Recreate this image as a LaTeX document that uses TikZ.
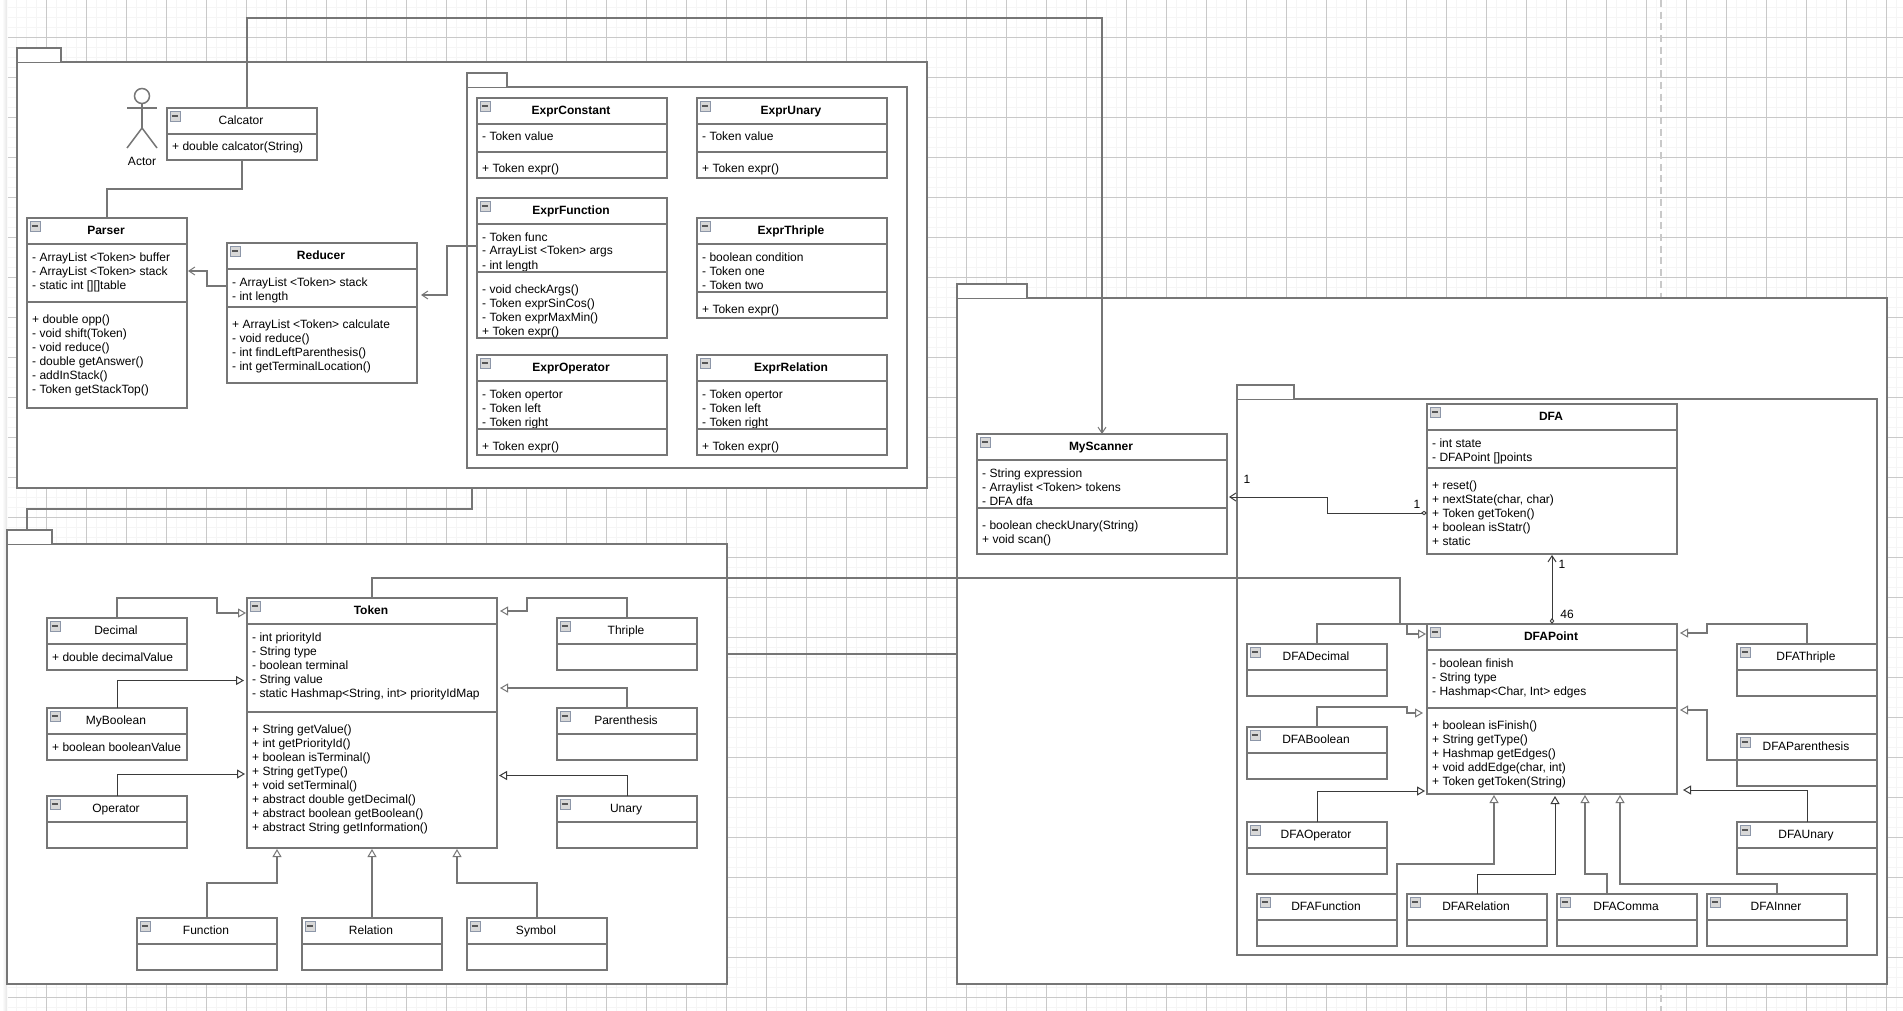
\documentclass[tikz,border=0pt]{standalone}
\usepackage{fontspec}
\setmainfont{Liberation Sans}
\usetikzlibrary{arrows.meta}

\definecolor{umlgray}{HTML}{767676}
\definecolor{linkdark}{HTML}{3A3A3A}
\definecolor{gridmajor}{HTML}{C9C9C9}
\definecolor{gridminor}{HTML}{F5F5F5}
\definecolor{iconedge}{HTML}{8C96A8}
\definecolor{iconfill}{HTML}{D8D8D8}

\tikzset{
    umltext/.style={font=\fontsize{12}{14}\selectfont, text=black},
    classframe/.style={draw=umlgray, line width=1.5pt, fill=white, anchor=north west, inner sep=0pt, outer sep=0pt},
    classtitle/.style={umltext, inner sep=0pt},
    classmember/.style={umltext, anchor=north west, align=left, inner sep=0pt},
    classline/.style={draw=umlgray, line width=1.5pt},
    iconframe/.style={draw=iconedge, fill=iconfill, line width=.8pt},
    pkgframe/.style={draw=umlgray, line width=1.5pt, fill=white, anchor=north west, inner sep=0pt, outer sep=0pt},
    link/.style={draw=umlgray, line width=1.4pt},
    thinlink/.style={draw=linkdark, line width=.9pt},
    hollowtip/.style={-{Triangle[length=8pt, width=9pt, fill=white, line width=1pt]}},
    opentip/.style={-{Straight Barb[length=6pt, width=8pt, line width=1pt]}}
}

% name, left, top, width, height, title
\newcommand{\classbox}[7][]{
    \node[classframe, minimum width=#5pt, minimum height=#6pt] (#2) at (#3,#4) {};
    \node[classtitle, font=\fontsize{12}{14}\selectfont#1] (#2-title) at ([xshift=-1pt, yshift=-14pt]#2.north) {\strut #7};
    \draw[iconframe] ([xshift=3pt, yshift=-3pt]#2.north west) rectangle ++(10,10);
    \draw[linkdark!85, line width=1.8pt] ([xshift=4.8pt, yshift=-8.2pt]#2.north west) -- ++(6.4,0);
}
% attribute block under a separator at the given height
\newcommand{\classattrs}[3]{
    \draw[classline] (#1.west |- 0,#2) -- (#1.east |- 0,#2);
    \node[classmember] (#1-attrs) at ([xshift=5pt]#1.west |- 0,#2+7) {\strut #3};
}
% method block, sits a little lower than the attributes
\newcommand{\classops}[3]{
    \draw[classline] (#1.west |- 0,#2) -- (#1.east |- 0,#2);
    \node[classmember] (#1-ops) at ([xshift=5pt]#1.west |- 0,#2+11) {\strut #3};
}
% name, left, top of body, right, bottom, tab right, tab top
\newcommand{\packagebox}[7]{
    \node[pkgframe, minimum width=#4pt-#2pt, minimum height=#5pt-#3pt] (#1) at (#2,#3) {};
    \draw[classline, fill=white] (#2,#3) |- (#6,#7) -- (#6,#3);
}

\begin{document}
\begin{tikzpicture}[x=1pt, y=-1pt]
\useasboundingbox (0,0) rectangle (1903,1011);

% Draw the page grid
\fill[white] (0,0) rectangle (1903,1011);
\foreach \x in {16.7,26.7,...,1903}
    \draw[gridminor, line width=1.2pt] (\x,0) -- (\x,1011);
\foreach \y in {7.3,17.3,...,1011}
    \draw[gridminor, line width=1.2pt] (8,\y) -- (1903,\y);
\foreach \x in {46.7,86.7,...,1903}
    \draw[gridmajor, line width=.8pt] (\x,0) -- (\x,1011);
\foreach \y in {37.3,77.3,...,1011}
    \draw[gridmajor, line width=.8pt] (8,\y) -- (1903,\y);
\shade[left color=white, right color=black!10] (2,0) rectangle (7,1011);

% Draw the page break
\draw[gridmajor, line width=1.6pt, dash pattern=on 7pt off 4.7pt] (1661,0) -- (1661,1011);

% Draw the packages
\packagebox{pkgcalc}{17}{62}{927}{488}{61}{48}
\packagebox{pkgexpr}{467}{87}{907}{468}{507}{73}
\packagebox{pkgtoken}{7}{544}{727}{984}{52}{530}
\packagebox{pkgscan}{957}{298}{1887}{984}{1027}{284}
\packagebox{pkgdfa}{1237}{399}{1877}{955}{1294}{385}
\coordinate (pkgtoken-tab) at (27,530);

% Draw the actor
\draw[classline, fill=white] (142,96) circle (7.5);
\draw[classline] (127,108) -- (157,108);
\draw[classline] (142,103.5) -- (142,128);
\draw[classline] (127,148) -- (142,128) -- (157,148);
\node[umltext, inner sep=0pt] (actor) at (142,161) {Actor};

% Calculator package
\classbox{calcator}{167}{108}{150}{52}{Calcator}
\classattrs{calcator}{134}{+ double calcator(String)}

\classbox[\bfseries]{parser}{27}{218}{160}{190}{Parser}
\classattrs{parser}{244}{- ArrayList <Token> buffer\\- ArrayList <Token> stack\\- static int [][]table}
\classops{parser}{302}{+ double opp()\\- void shift(Token)\\- void reduce()\\- double getAnswer()\\- addInStack()\\- Token getStackTop()}

\classbox[\bfseries]{reducer}{227}{243}{190}{140}{Reducer}
\classattrs{reducer}{269}{- ArrayList <Token> stack\\- int length}
\classops{reducer}{307}{+ ArrayList <Token> calculate\\- void reduce()\\- int findLeftParenthesis()\\- int getTerminalLocation()}

% Expression classes
\classbox[\bfseries]{exprconstant}{477}{98}{190}{80}{ExprConstant}
\classattrs{exprconstant}{124}{- Token value}
\classops{exprconstant}{152}{+ Token expr()}

\classbox[\bfseries]{exprunary}{697}{98}{190}{80}{ExprUnary}
\classattrs{exprunary}{124}{- Token value}
\classops{exprunary}{152}{+ Token expr()}

\classbox[\bfseries]{exprfunction}{477}{198}{190}{140}{ExprFunction}
\classattrs{exprfunction}{224}{- Token func\\- ArrayList <Token> args\\- int length}
\classops{exprfunction}{272}{- void checkArgs()\\- Token exprSinCos()\\- Token exprMaxMin()\\+ Token expr()}

\classbox[\bfseries]{exprthriple}{697}{218}{190}{100}{ExprThriple}
\classattrs{exprthriple}{244}{- boolean condition\\- Token one\\- Token two}
\classops{exprthriple}{292}{+ Token expr()}

\classbox[\bfseries]{exproperator}{477}{355}{190}{100}{ExprOperator}
\classattrs{exproperator}{381}{- Token opertor\\- Token left\\- Token right}
\classops{exproperator}{429}{+ Token expr()}

\classbox[\bfseries]{exprrelation}{697}{355}{190}{100}{ExprRelation}
\classattrs{exprrelation}{381}{- Token opertor\\- Token left\\- Token right}
\classops{exprrelation}{429}{+ Token expr()}

% Token classes
\classbox[\bfseries]{token}{247}{598}{250}{250}{Token}
\classattrs{token}{624}{- int priorityId\\- String type\\- boolean terminal\\- String value\\- static Hashmap<String, int> priorityIdMap}
\classops{token}{712}{+ String getValue()\\+ int getPriorityId()\\+ boolean isTerminal()\\+ String getType()\\+ void setTerminal()\\+ abstract double getDecimal()\\+ abstract boolean getBoolean()\\+ abstract String getInformation()}

\classbox{decimal}{47}{618}{140}{52}{Decimal}
\classattrs{decimal}{644}{+ double decimalValue}
\classbox{myboolean}{47}{708}{140}{52}{MyBoolean}
\classattrs{myboolean}{734}{+ boolean booleanValue}
\classbox{operator}{47}{796}{140}{52}{Operator}
\classattrs{operator}{822}{}
\classbox{thriple}{557}{618}{140}{52}{Thriple}
\classattrs{thriple}{644}{}
\classbox{parenthesis}{557}{708}{140}{52}{Parenthesis}
\classattrs{parenthesis}{734}{}
\classbox{unary}{557}{796}{140}{52}{Unary}
\classattrs{unary}{822}{}
\classbox{function}{137}{918}{140}{52}{Function}
\classattrs{function}{944}{}
\classbox{relation}{302}{918}{140}{52}{Relation}
\classattrs{relation}{944}{}
\classbox{symbol}{467}{918}{140}{52}{Symbol}
\classattrs{symbol}{944}{}

% Scanner and DFA classes
\classbox[\bfseries]{myscanner}{977}{434}{250}{120}{MyScanner}
\classattrs{myscanner}{460}{- String expression\\- Arraylist <Token> tokens\\- DFA dfa}
\classops{myscanner}{508}{- boolean checkUnary(String)\\+ void scan()}

\classbox[\bfseries]{dfa}{1427}{404}{250}{150}{DFA}
\classattrs{dfa}{430}{- int state\\- DFAPoint []points}
\classops{dfa}{468}{+ reset()\\+ nextState(char, char)\\+ Token getToken()\\+ boolean isStatr()\\+ static}

\classbox[\bfseries]{dfapoint}{1427}{624}{250}{170}{DFAPoint}
\classattrs{dfapoint}{650}{- boolean finish\\- String type\\- Hashmap<Char, Int> edges}
\classops{dfapoint}{708}{+ boolean isFinish()\\+ String getType()\\+ Hashmap getEdges()\\+ void addEdge(char, int)\\+ Token getToken(String)}

\classbox{dfadecimal}{1247}{644}{140}{52}{DFADecimal}
\classattrs{dfadecimal}{670}{}
\classbox{dfaboolean}{1247}{727}{140}{52}{DFABoolean}
\classattrs{dfaboolean}{753}{}
\classbox{dfaoperator}{1247}{822}{140}{52}{DFAOperator}
\classattrs{dfaoperator}{848}{}
\classbox{dfathriple}{1737}{644}{140}{52}{DFAThriple}
\classattrs{dfathriple}{670}{}
\classbox{dfaparenthesis}{1737}{734}{140}{52}{DFAParenthesis}
\classattrs{dfaparenthesis}{760}{}
\classbox{dfaunary}{1737}{822}{140}{52}{DFAUnary}
\classattrs{dfaunary}{848}{}
\classbox{dfafunction}{1257}{894}{140}{52}{DFAFunction}
\classattrs{dfafunction}{920}{}
\classbox{dfarelation}{1407}{894}{140}{52}{DFARelation}
\classattrs{dfarelation}{920}{}
\classbox{dfacomma}{1557}{894}{140}{52}{DFAComma}
\classattrs{dfacomma}{920}{}
\classbox{dfainner}{1707}{894}{140}{52}{DFAInner}
\classattrs{dfainner}{920}{}

% Links between the packages
\draw[link] (472,0 |- pkgcalc.south) -- (472,509) -| (pkgtoken-tab);
\draw[link] (pkgtoken.east |- 0,654) -- (pkgscan.west |- 0,654);

% Associations
\draw[link, opentip] (247,0 |- calcator.north) |- (1102,18) -- (myscanner.north);
\draw[link] (calcator.south) -- (242,189) -| (parser.north);
\draw[link, opentip, shorten >=1pt] (reducer.west |- 0,286) -| (207,271) -- (parser.east |- 0,271);
\draw[link, opentip, shorten >=4pt] (exprfunction.west |- 0,246) -| (447,295) -- (reducer.east |- 0,295);
\draw[thinlink, {Diamond[length=6pt, width=4.5pt, fill=white, line width=.9pt]}-{Straight Barb[length=6pt, width=8pt, line width=1pt]}, shorten >=2pt] (dfa.west |- 0,513) -| (1327,497) -- (myscanner.east |- 0,497);
\draw[thinlink, {Diamond[length=6pt, width=4.5pt, fill=white, line width=.9pt]}-{Straight Barb[length=6pt, width=8pt, line width=1pt]}, shorten >=1pt] (dfapoint.north) -- (dfa.south);
\node[umltext, inner sep=0pt] (scanner-mult) at (1247,479) {1};
\node[umltext, inner sep=0pt] (dfa-mult) at (1417,504) {1};
\node[umltext, inner sep=0pt] (dfa-one) at (1562,564) {1};
\node[umltext, inner sep=0pt] (dfa-many) at (1567,614) {46};

% Inheritance around Token
\draw[link, hollowtip, shorten >=1pt] (decimal.north) |- (217,598) |- (token.west |- 0,613);
\draw[thinlink, hollowtip, shorten >=3pt] (myboolean.north) |- (token.west |- 0,680.5);
\draw[thinlink, hollowtip, shorten >=2pt] (operator.north) |- (token.west |- 0,774);
\draw[link, hollowtip, shorten >=3pt] (thriple.north) |- (527,598) |- (token.east |- 0,611);
\draw[link, hollowtip, shorten >=3pt] (parenthesis.north) |- (token.east |- 0,688);
\draw[thinlink, hollowtip, shorten >=2pt] (unary.north) |- (token.east |- 0,775.5);
\draw[link, hollowtip, shorten >=1pt] (207,0 |- function.north) |- (277,883) -- (277,0 |- token.south);
\draw[link, hollowtip, shorten >=1pt] (relation.north) -- (token.south);
\draw[link, hollowtip, shorten >=1pt] (537,0 |- symbol.north) |- (457,883) -- (457,0 |- token.south);

% Token to DFAPoint
\draw[link] (token.north) |- (1400,578) |- (1490,0 |- dfapoint.north);

% Inheritance around DFAPoint
\draw[link, hollowtip, shorten >=1pt] (dfadecimal.north) |- (1407,624) |- (dfapoint.west |- 0,634);
\draw[link, hollowtip, shorten >=4pt] (dfaboolean.north) |- (1407,707) |- (dfapoint.west |- 0,713);
\draw[thinlink, hollowtip, shorten >=2pt] (dfaoperator.north) |- (dfapoint.west |- 0,791);
\draw[link, hollowtip, shorten >=3pt] (dfathriple.north) |- (1707,624) |- (dfapoint.east |- 0,633);
\draw[link, hollowtip, shorten >=3pt] (dfaparenthesis.west |- 0,760) -| (1707,710) -- (dfapoint.east |- 0,710);
\draw[thinlink, hollowtip, shorten >=6pt] (dfaunary.north) |- (dfapoint.east |- 0,790);
\draw[link, hollowtip, shorten >=1pt] (1327,0 |- dfafunction.north) -| (1397,864) -| (1494,0 |- dfapoint.south);
\draw[thinlink, hollowtip, shorten >=2pt] (dfarelation.north) |- (1555,874) -- (1555,0 |- dfapoint.south);
\draw[link, hollowtip, shorten >=1pt] (1607,0 |- dfacomma.north) |- (1585,874) -- (1585,0 |- dfapoint.south);
\draw[link, hollowtip, shorten >=1pt] (dfainner.north) |- (1620,884) -- (1620,0 |- dfapoint.south);
\end{tikzpicture}
\end{document}
